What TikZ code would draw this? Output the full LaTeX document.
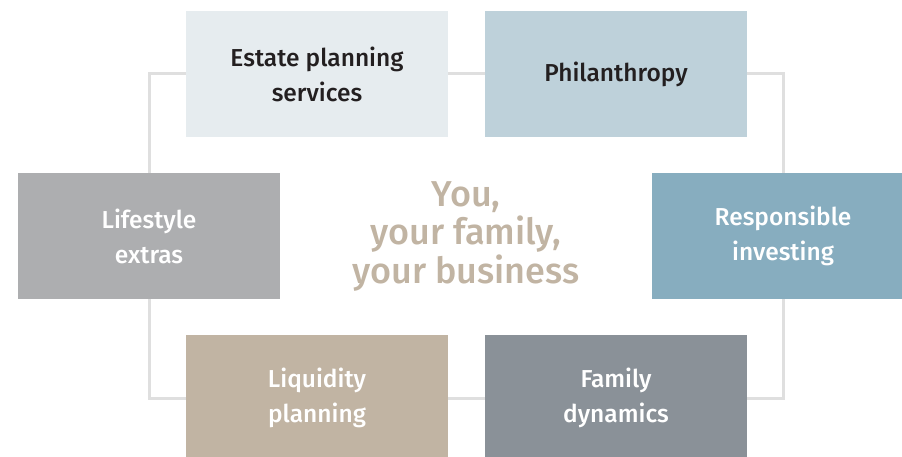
\documentclass[tikz,border=0pt]{standalone}
\usepackage{fontspec}
\setmainfont{Fira Sans}[BoldFont={Fira Sans Medium}]

\definecolor{linkgray}{HTML}{DFDFDF}
\definecolor{paleblue}{HTML}{E6ECEF}
\definecolor{skyblue}{HTML}{BED1DA}
\definecolor{stone}{HTML}{ADAEB0}
\definecolor{steelblue}{HTML}{87ADBF}
\definecolor{sand}{HTML}{C1B4A3}
\definecolor{slate}{HTML}{8A9198}
\definecolor{inkdark}{HTML}{231F20}

\begin{document}
\begin{tikzpicture}[x=1pt,y=-1pt,
  area/.style={minimum width=262pt,minimum height=126pt,inner sep=0pt,
    align=center,font=\bfseries\fontsize{24.5}{35}\selectfont},
  link/.style={draw=linkgray,line width=3pt}]
  \useasboundingbox (0,0) rectangle (902,457);
  \clip (0,0) rectangle (902,457);

  % service areas
  \node[area,fill=paleblue,text=inkdark] (estate) at (317,74) {Estate planning\\services};
  \node[area,fill=skyblue,text=inkdark] (philanthropy) at (616,74) {Philanthropy};
  \node[area,fill=stone,text=white] (lifestyle) at (149,236) {Lifestyle\\extras};
  \node[area,fill=steelblue,text=white] (responsible) at (783,236) {Responsible\\investing};
  \node[area,fill=sand,text=white] (liquidity) at (317,398) {Liquidity\\planning};
  \node[area,fill=slate,text=white] (family) at (616,398) {Family\\dynamics};

  % the loop round the centre
  \draw[link] (estate.west) -| (lifestyle.north);
  \draw[link] (lifestyle.south) |- (liquidity.west);
  \draw[link] (estate.east) -- (philanthropy.west);
  \draw[link] (liquidity.east) -- (family.west);
  \draw[link] (philanthropy.east) -| (responsible.north);
  \draw[link] (responsible.south) |- (family.east);

  % centre
  \node[align=center,text=sand,font=\bfseries\fontsize{36}{38.5}\selectfont]
    (you) at (466,236) {You,\\your family,\\your business};
\end{tikzpicture}
\end{document}
